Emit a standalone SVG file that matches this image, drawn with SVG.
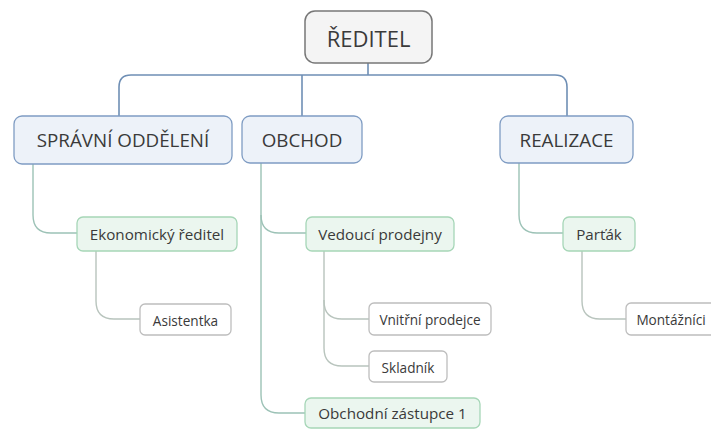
<svg xmlns="http://www.w3.org/2000/svg" width="711" height="430" viewBox="0 0 711 430">
<defs>
<style>
text{font-family:"Open Sans","Noto Sans","Liberation Sans",sans-serif;fill:#3a3a3a;text-anchor:middle;dominant-baseline:central}
.root rect{fill:#f4f4f4;stroke:#777;stroke-width:1.5}
.l1 rect{fill:#edf2f9;stroke:#7f9cc3;stroke-width:1.3}
.l2 rect{fill:#ebf6ef;stroke:#a6d6b7;stroke-width:1.3}
.l3 rect{fill:#fff;stroke:#bdbdbd;stroke-width:1.3}
.c0{fill:none;stroke:#6f8fb5;stroke-width:1.6}
.c1{fill:none;stroke:#9cc2b6;stroke-width:1.4}
.c2{fill:none;stroke:#b8c4bd;stroke-width:1.4}
.t1{font-size:18.8px}
.t2{font-size:15.2px}
.t3{font-size:13.6px}
</style>
</defs>
<g id="connectors">
<path class="c0" d="M368,63 V75"/>
<path class="c0" d="M119,116 V87 Q119,75 131,75 H555 Q567,75 567,87 V116"/>
<path class="c0" d="M302,75 V116"/>
<path class="c1" d="M33,164 V215 Q33,233 51,233 H77"/>
<path class="c1" d="M261,163 V215 Q261,233 279,233 H306"/>
<path class="c1" d="M261,215 V395 Q261,413 279,413 H305"/>
<path class="c1" d="M519,163 V215 Q519,233 537,233 H563"/>
<path class="c2" d="M96,251 V301 Q96,319 114,319 H140"/>
<path class="c2" d="M324,251 V301 Q324,319 342,319 H369"/>
<path class="c2" d="M324,300 V348 Q324,366 342,366 H369"/>
<path class="c2" d="M582,251 V301 Q582,319 600,319 H626"/>
</g>
<g id="reditel" class="root"><rect x="305" y="11" width="127" height="52" rx="10"/><text x="368.5" y="38" font-size="22">ŘEDITEL</text></g>
<g id="spravni" class="l1"><rect x="14" y="116" width="218" height="48" rx="8"/><text class="t1" x="123" y="140">SPRÁVNÍ ODDĚLENÍ</text></g>
<g id="obchod" class="l1"><rect x="242" y="116" width="120" height="47" rx="8"/><text class="t1" x="302" y="140">OBCHOD</text></g>
<g id="realizace" class="l1"><rect x="500" y="116" width="133" height="47" rx="8"/><text class="t1" x="566.5" y="140">REALIZACE</text></g>
<g id="ekonomicky" class="l2"><rect x="77" y="217" width="160" height="34" rx="6"/><text class="t2" x="157" y="234">Ekonomický ředitel</text></g>
<g id="vedouci" class="l2"><rect x="306" y="217" width="148" height="34" rx="6"/><text class="t2" x="380" y="234">Vedoucí prodejny</text></g>
<g id="partak" class="l2"><rect x="563" y="217" width="72" height="34" rx="6"/><text class="t2" x="599" y="234">Parťák</text></g>
<g id="obchodni" class="l2"><rect x="305" y="398" width="175" height="30" rx="6"/><text class="t2" x="392.5" y="413">Obchodní zástupce 1</text></g>
<g id="asistentka" class="l3"><rect x="140" y="304" width="91" height="31" rx="5"/><text class="t3" x="185.5" y="320">Asistentka</text></g>
<g id="vnitrni" class="l3"><rect x="369" y="303" width="122" height="32" rx="5"/><text class="t3" x="430" y="319">Vnitřní prodejce</text></g>
<g id="skladnik" class="l3"><rect x="369" y="351" width="78" height="31" rx="5"/><text class="t3" x="408" y="367">Skladník</text></g>
<g id="montaznici" class="l3"><rect x="626" y="303" width="95" height="32" rx="5"/><text class="t3" x="671" y="319">Montážníci</text></g>
</svg>
